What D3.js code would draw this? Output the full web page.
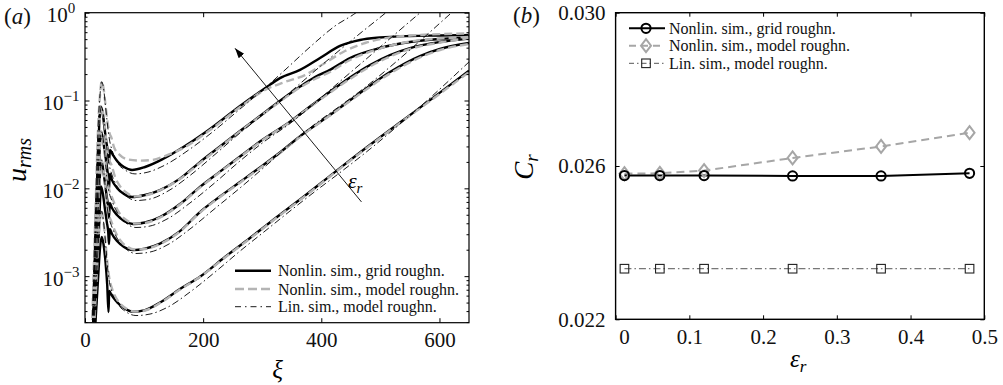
<!DOCTYPE html>
<html><head><meta charset="utf-8">
<script src="https://cdn.jsdelivr.net/npm/d3@7"></script>
<style>
html,body{margin:0;padding:0;background:#fff;}
svg{display:block;}
</style></head><body>
<svg id="fig" width="1003" height="385"></svg>
<script>
// ---------- Panel (a): disturbance amplitude u_rms along xi ----------
const xiTicks = [0, 200, 400, 600];
const uTicks = [1e-3, 1e-2, 1e-1, 1];
const uTickExp = [-3, -2, -1, 0];

// nonlinear simulations, grid roughness (five roughness amplitudes, top to bottom)
const grid1 = [[13.5,2.43e-4],[18.6,5.66e-3],[22.9,3.55e-2],[26.6,8.50e-2],[29.6,7.40e-2],[33.0,4.86e-2],[36.4,3.28e-2],[38.9,2.59e-2],[40.6,1.99e-2],[42.3,2.73e-2],[47.4,2.39e-2],[55.9,1.99e-2],[66.0,1.75e-2],[79.6,1.62e-2],[101.6,1.75e-2],[132,2.16e-2],[169.3,3.03e-2],[211.6,4.74e-2],[262.4,8.66e-2],[304.7,0.138],[330,0.180],[364,0.223],[397.8,0.305],[431.6,0.418],[465.5,0.489],[499.3,0.522],[550,0.543],[600.9,0.550],[650,0.557]];
const grid2 = [[14.4,2.43e-4],[19.5,3.35e-3],[23.7,1.84e-2],[27.1,4.40e-2],[30.1,3.74e-2],[33.5,2.59e-2],[36.9,1.80e-2],[39.3,1.31e-2],[40.6,9.56e-3],[42.0,1.46e-2],[45.7,1.24e-2],[54.2,1.01e-2],[66.0,8.61e-3],[79.6,7.96e-3],[101.6,8.39e-3],[127,9.56e-3],[160.8,1.29e-2],[194.6,1.99e-2],[228.5,2.99e-2],[262.4,4.49e-2],[296.2,6.66e-2],[324.5,9.29e-2],[364.1,0.144],[389.3,0.185],[414.7,0.223],[448.5,0.305],[499.3,0.396],[550.1,0.464],[600.9,0.502],[650,0.522]];
const grid3 = [[15.2,2.43e-4],[20.3,1.98e-3],[24.2,9.56e-3],[27.1,2.10e-2],[30.1,1.75e-2],[33.5,1.18e-2],[36.9,7.96e-3],[39.3,6.12e-3],[40.6,4.59e-3],[42.0,6.81e-3],[45.7,5.97e-3],[54.2,4.97e-3],[66.0,4.25e-3],[81.2,3.92e-3],[101.6,4.08e-3],[127,4.71e-3],[160.8,6.62e-3],[194.6,1.04e-2],[228.5,1.55e-2],[262.4,2.30e-2],[296.2,3.41e-2],[347,5.73e-2],[380.9,8.54e-2],[414.7,0.126],[448.5,0.183],[482.4,0.254],[516.3,0.330],[550.1,0.396],[600.9,0.464],[650,0.508]];
const grid4 = [[16.0,2.43e-4],[21.2,1.17e-3],[24.5,4.97e-3],[27.1,1.05e-2],[30.1,8.84e-3],[33.5,5.97e-3],[36.9,4.13e-3],[39.3,3.18e-3],[40.6,2.32e-3],[42.0,3.44e-3],[45.7,3.02e-3],[54.2,2.51e-3],[66.0,2.15e-3],[81.2,1.98e-3],[101.6,2.06e-3],[127,2.35e-3],[160.8,3.26e-3],[194.6,5.37e-3],[228.5,8.07e-3],[262.4,1.18e-2],[296.2,1.73e-2],[330,2.56e-2],[366.8,4.05e-2],[414.7,6.84e-2],[465.5,0.122],[516.3,0.211],[567,0.321],[600.9,0.386],[650,0.452]];
const grid5 = [[16.9,2.43e-4],[22.0,9.03e-4],[25.4,2.09e-3],[28.3,2.80e-3],[31.3,2.32e-3],[34.7,1.45e-3],[37.6,7.92e-4],[39.8,3.90e-4],[41.0,6.77e-4],[44.0,6.25e-4],[52.5,5.21e-4],[66.0,4.33e-4],[81.2,3.93e-4],[101.6,4.11e-4],[127,5.00e-4],[160.8,7.13e-4],[194.6,9.84e-4],[236.9,1.65e-3],[279.3,2.72e-3],[321.6,4.53e-3],[363.9,7.45e-3],[420.3,1.48e-2],[465.5,2.56e-2],[533.2,5.62e-2],[584,0.101],[650,0.219]];

// nonlinear simulations, model roughness
const model1 = [[11.8,2.43e-4],[17.8,5.66e-3],[22.0,4.61e-2],[25.4,0.116],[28.3,0.164],[31.3,0.139],[34.7,8.89e-2],[38.1,5.69e-2],[41.5,4.26e-2],[44.9,3.74e-2],[49.1,2.95e-2],[59.2,2.39e-2],[72.8,2.13e-2],[93.1,2.07e-2],[113.4,2.10e-2],[135.4,2.33e-2],[169.3,2.95e-2],[211.6,4.61e-2],[262.4,8.43e-2],[304.7,0.132],[338.6,0.163],[372.4,0.195],[406.2,0.268],[440.1,0.366],[474,0.452],[516.3,0.522],[567,0.557],[650,0.580]];
const model2 = [[12.7,2.43e-4],[18.6,4.35e-3],[22.8,2.73e-2],[25.7,6.84e-2],[27.9,8.55e-2],[31.0,7.02e-2],[34.4,4.49e-2],[37.7,2.73e-2],[41.1,2.10e-2],[44.9,1.84e-2],[50.8,1.35e-2],[59.2,1.06e-2],[71.1,8.85e-3],[82.9,8.07e-3],[101.6,8.28e-3],[127,9.51e-3],[160.8,1.28e-2],[194.6,1.94e-2],[228.5,2.95e-2],[262.4,4.44e-2],[296.2,6.57e-2],[324.5,9.12e-2],[364.1,0.141],[389.3,0.176],[414.7,0.211],[448.5,0.289],[499.3,0.391],[550.1,0.470],[600.9,0.508],[650,0.529]];
const model3 = [[13.5,2.43e-4],[19.5,3.82e-3],[23.7,2.10e-2],[27.9,4.40e-2],[31.0,3.55e-2],[34.4,2.10e-2],[37.7,1.24e-2],[41.1,9.56e-3],[44.9,8.17e-3],[50.8,6.46e-3],[59.2,5.10e-3],[71.1,4.30e-3],[84.6,3.97e-3],[101.6,4.03e-3],[127,4.65e-3],[160.8,6.54e-3],[194.6,1.02e-2],[228.5,1.53e-2],[262.4,2.27e-2],[296.2,3.37e-2],[347,5.69e-2],[380.9,8.43e-2],[414.7,0.123],[448.5,0.176],[482.4,0.244],[516.3,0.317],[550.1,0.386],[600.9,0.458],[650,0.515]];
const model4 = [[14.4,2.43e-4],[20.3,2.26e-3],[24.2,1.09e-2],[27.9,2.10e-2],[31.0,1.70e-2],[34.4,1.01e-2],[37.7,6.29e-3],[41.1,4.84e-3],[44.9,4.13e-3],[50.8,3.26e-3],[59.2,2.58e-3],[71.1,2.17e-3],[84.6,2.01e-3],[101.6,2.04e-3],[127,2.32e-3],[160.8,3.22e-3],[194.6,5.30e-3],[228.5,7.96e-3],[262.4,1.16e-2],[296.2,1.70e-2],[330,2.52e-2],[366.8,3.99e-2],[414.7,6.75e-2],[465.5,0.119],[516.3,0.203],[567,0.309],[600.9,0.376],[650,0.440]];
const model5 = [[15.2,2.43e-4],[20.3,1.17e-3],[24.5,3.82e-3],[27.9,5.51e-3],[31.0,4.36e-3],[34.4,2.58e-3],[37.7,1.45e-3],[41.1,9.51e-4],[44.9,7.51e-4],[50.8,5.93e-4],[59.2,4.88e-4],[71.1,4.22e-4],[84.6,3.95e-4],[101.6,4.06e-4],[127,4.94e-4],[160.8,7.04e-4],[194.6,9.77e-4],[236.9,1.63e-3],[279.3,2.68e-3],[321.6,4.47e-3],[363.9,7.35e-3],[420.3,1.46e-2],[465.5,2.52e-2],[533.2,5.54e-2],[584,9.87e-2],[650,0.211]];

// linear simulations, model roughness
const lin1 = [[11.8,2.43e-4],[17.8,5.66e-3],[22.0,4.61e-2],[25.4,0.116],[28.3,0.164],[31.3,0.139],[34.7,8.65e-2],[38.1,5.26e-2],[41.5,3.55e-2],[45.7,2.73e-2],[54.2,1.99e-2],[67.7,1.62e-2],[84.6,1.46e-2],[106.6,1.53e-2],[135.4,1.84e-2],[177.7,2.80e-2],[220,4.61e-2],[262.4,8.00e-2],[304.7,0.139],[338.6,0.223],[380.9,0.407],[423.2,0.706],[460.4,1.02],[474,1.22]];
const lin2 = [[12.7,2.43e-4],[18.6,4.35e-3],[22.8,2.73e-2],[25.7,6.84e-2],[27.9,8.55e-2],[31.0,7.02e-2],[34.4,4.49e-2],[37.7,2.59e-2],[41.1,1.84e-2],[45.7,1.42e-2],[54.2,1.06e-2],[67.7,8.39e-3],[86.3,7.26e-3],[110,7.55e-3],[140.5,9.31e-3],[177.7,1.40e-2],[220,2.43e-2],[262.4,4.27e-2],[304.7,7.21e-2],[338.6,0.111],[380.9,0.195],[423.2,0.339],[465.5,0.580],[514.6,1.07],[524.7,1.22]];
const lin3 = [[13.5,2.43e-4],[19.5,3.82e-3],[23.7,2.10e-2],[27.9,4.40e-2],[31.0,3.55e-2],[34.4,2.10e-2],[37.7,1.18e-2],[41.1,8.85e-3],[45.7,7.17e-3],[54.2,5.37e-3],[67.7,4.13e-3],[86.3,3.58e-3],[110,3.72e-3],[140.5,4.53e-3],[177.7,6.81e-3],[220,1.16e-2],[262.4,2.05e-2],[304.7,3.46e-2],[347,5.47e-2],[389.3,9.37e-2],[431.6,0.165],[474,0.289],[516.3,0.508],[568.8,1.02],[580.6,1.19]];
const lin4 = [[14.4,2.43e-4],[20.3,2.26e-3],[24.2,1.09e-2],[27.9,2.10e-2],[31.0,1.70e-2],[34.4,1.01e-2],[37.7,5.97e-3],[41.1,4.47e-3],[45.7,3.62e-3],[54.2,2.72e-3],[67.7,2.09e-3],[86.3,1.81e-3],[110,1.88e-3],[140.5,2.29e-3],[177.7,3.44e-3],[220,5.89e-3],[262.4,1.01e-2],[304.7,1.77e-2],[347,3.15e-2],[389.3,5.40e-2],[431.6,8.66e-2],[474,0.141],[516.3,0.241],[567,0.476],[621.2,1.01],[631.3,1.16]];
const lin5 = [[15.2,2.43e-4],[20.3,1.17e-3],[24.5,3.82e-3],[27.9,5.51e-3],[31.0,4.36e-3],[34.4,2.58e-3],[37.7,1.37e-3],[41.1,8.79e-4],[45.7,6.59e-4],[54.2,4.94e-4],[67.7,4.00e-4],[86.3,3.56e-4],[110,3.70e-4],[140.5,4.45e-4],[177.7,6.59e-4],[220,1.11e-3],[262.4,1.93e-3],[304.7,3.26e-3],[347,5.51e-3],[389.3,9.20e-3],[431.6,1.51e-2],[482.4,2.80e-2],[533.2,5.40e-2],[584,0.107],[650,0.275]];

// arrow marking increasing roughness amplitude (xi, u)
const arrowTail = [468, 7.0e-3];
const arrowHead = [254, 0.393];
const arrowLabelAt = [445, 1.0e-2];

// ---------- Panel (b): phase speed against roughness amplitude ----------
const epsR = [0.012, 0.06, 0.12, 0.24, 0.36, 0.48];
const crGrid = [0.02575, 0.02575, 0.02575, 0.02574, 0.02574, 0.02581];
const crModel = [0.02580, 0.02581, 0.02588, 0.02621, 0.02651, 0.02687];
const crLin = [0.02332, 0.02332, 0.02332, 0.02332, 0.02332, 0.02332];
const epsTicks = [0, 0.1, 0.2, 0.3, 0.4, 0.5];
const crTicks = [0.022, 0.026, 0.030];

const legendLabels = ["Nonlin. sim., grid roughn.", "Nonlin. sim., model roughn.", "Lin. sim., model roughn."];

// ---------- drawing ----------
const FONT = "'Liberation Serif'";
const svg = d3.select("#fig");
const GRAY = "#b4b4b4";
const DASH = "8,4";
const DASHDOT = "7,3,1.5,3";

function styleAxis(g, size) {
  g.select(".domain").remove();
  g.selectAll(".tick line").attr("stroke", "#000").attr("stroke-width", 1);
  g.attr("font-family", null).attr("font-size", size);
  g.selectAll("text").attr("fill", "#111");
}

// ----- panel (a) -----
const A = {left: 85, right: 469, top: 12.7, bottom: 322.7};
const xA = d3.scaleLinear().domain([0, 650]).range([A.left, A.right]);
const yA = d3.scaleLog().domain([2.95e-4, 1]).range([A.bottom, A.top]);

const defs = svg.append("defs");
defs.append("clipPath").attr("id", "clipA").append("rect")
  .attr("x", A.left).attr("y", A.top).attr("width", A.right - A.left).attr("height", A.bottom - A.top);
defs.append("marker").attr("id", "head").attr("viewBox", "0 0 10 10")
  .attr("refX", 10).attr("refY", 5).attr("markerWidth", 10).attr("markerHeight", 10)
  .attr("markerUnits", "userSpaceOnUse").attr("orient", "auto")
  .append("path").attr("d", "M0,1.5 L10,5 L0,8.5 Z").attr("fill", "#000");

const lineA = d3.line().x(d => xA(d[0])).y(d => yA(d[1])).curve(d3.curveMonotoneX);
const curves = svg.append("g").attr("clip-path", "url(#clipA)").attr("fill", "none");
[grid1, grid2, grid3, grid4, grid5].forEach(c =>
  curves.append("path").attr("d", lineA(c)).attr("stroke", "#000").attr("stroke-width", 2.4));
[model1, model2, model3, model4, model5].forEach(c =>
  curves.append("path").attr("d", lineA(c)).attr("stroke", GRAY).attr("stroke-width", 2.4)
    .attr("stroke-dasharray", DASH));
[lin1, lin2, lin3, lin4, lin5].forEach(c =>
  curves.append("path").attr("d", lineA(c)).attr("stroke", "#000").attr("stroke-width", 0.9)
    .attr("stroke-dasharray", DASHDOT));

// arrow and its label
svg.append("line")
  .attr("x1", xA(arrowTail[0])).attr("y1", yA(arrowTail[1]))
  .attr("x2", xA(arrowHead[0])).attr("y2", yA(arrowHead[1]))
  .attr("stroke", "#000").attr("stroke-width", 0.9).attr("marker-end", "url(#head)");
const eLab = svg.append("text").attr("x", xA(arrowLabelAt[0])).attr("y", yA(arrowLabelAt[1]))
  .attr("font-size", 22).attr("font-style", "italic");
eLab.append("tspan").text("ε");
eLab.append("tspan").attr("dy", 5).attr("font-size", 15).text("r");

// axes (a)
const gxa = svg.append("g").attr("transform", `translate(0,${A.bottom})`)
  .call(d3.axisBottom(xA).tickValues(xiTicks).tickSize(-4.5).tickPadding(9).tickFormat(d3.format("d")));
styleAxis(gxa, 21);
const gxa2 = svg.append("g").attr("transform", `translate(0,${A.top})`)
  .call(d3.axisTop(xA).tickValues(xiTicks).tickSize(-4.5).tickFormat(""));
styleAxis(gxa2, 21);
const minorU = yA.ticks().filter(v => Math.abs(Math.log10(v) - Math.round(Math.log10(v))) > 1e-6);
[[d3.axisLeft, A.left], [d3.axisRight, A.right]].forEach(([ax, pos]) => {
  const gmaj = svg.append("g").attr("transform", `translate(${pos},0)`)
    .call(ax(yA).tickValues(uTicks).tickSize(-4.5).tickFormat(""));
  styleAxis(gmaj, 21);
  const gmin = svg.append("g").attr("transform", `translate(${pos},0)`)
    .call(ax(yA).tickValues(minorU).tickSize(-2.5).tickFormat(""));
  styleAxis(gmin, 21);
});
uTicks.forEach((v, i) => {
  const t = svg.append("text").attr("x", 61).attr("y", yA(v) + 9.5)
    .attr("text-anchor", "middle").attr("font-size", 21).attr("fill", "#111");
  t.append("tspan").text("10");
  const e = uTickExp[i];
  t.append("tspan").attr("dy", -9).attr("font-size", 15).text(e < 0 ? "\u2212" + Math.abs(e) : String(e));
});
svg.append("rect").attr("x", A.left).attr("y", A.top).attr("width", A.right - A.left)
  .attr("height", A.bottom - A.top).attr("fill", "none").attr("stroke", "#000").attr("stroke-width", 1.2);

// legend (a)
const legA = svg.append("g");
const legAStyles = [
  {stroke: "#000", w: 2.4, dash: null},
  {stroke: GRAY, w: 2.4, dash: "9,4"},
  {stroke: "#000", w: 0.9, dash: "6,4,1.5,4"}
];
[270.7, 289, 306.7].forEach((yy, i) => {
  const s = legAStyles[i];
  legA.append("line").attr("x1", 235).attr("x2", 271).attr("y1", yy).attr("y2", yy)
    .attr("stroke", s.stroke).attr("stroke-width", s.w).attr("stroke-dasharray", s.dash);
  legA.append("text").attr("x", 278).attr("y", yy + 5.5).attr("font-size", 16).attr("fill", "#111")
    .text(legendLabels[i]);
});

// labels (a)
const ta = svg.append("text").attr("x", 4).attr("y", 24).attr("font-size", 23).attr("fill", "#111");
ta.append("tspan").text("(");
ta.append("tspan").attr("font-style", "italic").text("a");
ta.append("tspan").text(")");
svg.append("text").attr("x", 277.5).attr("y", 378).attr("text-anchor", "middle")
  .attr("font-size", 25).attr("font-style", "italic").text("ξ");
const yl = svg.append("text").attr("transform", "translate(26,160) rotate(-90)")
  .attr("text-anchor", "middle").attr("font-style", "italic").attr("font-size", 28);
yl.append("tspan").text("u");
yl.append("tspan").attr("dy", 5).attr("font-size", 20).text("rms");

// ----- panel (b) -----
const B = {left: 615.6, right: 984.3, top: 12.7, bottom: 319.3};
const xB = d3.scaleLinear().domain([0, 0.5]).range([B.left, B.right]);
const yB = d3.scaleLinear().domain([0.022, 0.030]).range([B.bottom, B.top]);

const gxb = svg.append("g").attr("transform", `translate(0,${B.bottom})`)
  .call(d3.axisBottom(xB).tickValues(epsTicks).tickSize(-4).tickPadding(10)
    .tickFormat(d => d === 0 ? "0" : d3.format(".1f")(d)));
styleAxis(gxb, 21);
gxb.selectAll(".tick text").filter(d => d === 0).attr("x", 8.5);
const gxb2 = svg.append("g").attr("transform", `translate(0,${B.top})`)
  .call(d3.axisTop(xB).tickValues(epsTicks).tickSize(-4).tickFormat(""));
styleAxis(gxb2, 21);
const gyb = svg.append("g").attr("transform", `translate(${B.left},0)`)
  .call(d3.axisLeft(yB).tickValues(crTicks).tickSize(-4).tickPadding(10).tickFormat(d3.format(".3f")));
styleAxis(gyb, 21);
const gyb2 = svg.append("g").attr("transform", `translate(${B.right},0)`)
  .call(d3.axisRight(yB).tickValues(crTicks).tickSize(-4).tickFormat(""));
styleAxis(gyb2, 21);

const ptsGrid = epsR.map((e, i) => [e, crGrid[i]]);
const ptsModel = epsR.map((e, i) => [e, crModel[i]]);
const ptsLin = epsR.map((e, i) => [e, crLin[i]]);
const lineB = d3.line().x(d => xB(d[0])).y(d => yB(d[1]));

const LINGRAY = "#555";
svg.append("path").attr("d", lineB(ptsLin)).attr("fill", "none").attr("stroke", LINGRAY)
  .attr("stroke-width", 1).attr("stroke-dasharray", DASHDOT);
svg.append("path").attr("d", lineB(ptsModel)).attr("fill", "none").attr("stroke", "#a6a6a6")
  .attr("stroke-width", 2).attr("stroke-dasharray", "8,5");
svg.append("path").attr("d", lineB(ptsGrid)).attr("fill", "none").attr("stroke", "#000")
  .attr("stroke-width", 2);

const sym = {
  circle: (g, x, y) => g.append("circle").attr("cx", x).attr("cy", y).attr("r", 4.6)
    .attr("fill", "none").attr("stroke", "#000").attr("stroke-width", 2),
  diamond: (g, x, y) => g.append("path").attr("d", `M${x},${y - 6.5}L${x + 5},${y}L${x},${y + 6.5}L${x - 5},${y}Z`)
    .attr("fill", "none").attr("stroke", "#a6a6a6").attr("stroke-width", 2),
  square: (g, x, y) => g.append("rect").attr("x", x - 4.3).attr("y", y - 4.3).attr("width", 8.6).attr("height", 8.6)
    .attr("fill", "none").attr("stroke", "#222").attr("stroke-width", 1.1)
};
const gm = svg.append("g");
ptsLin.forEach(d => sym.square(gm, xB(d[0]), yB(d[1])));
ptsModel.forEach(d => sym.diamond(gm, xB(d[0]), yB(d[1])));
ptsGrid.forEach(d => sym.circle(gm, xB(d[0]), yB(d[1])));

svg.append("rect").attr("x", B.left).attr("y", B.top).attr("width", B.right - B.left)
  .attr("height", B.bottom - B.top).attr("fill", "none").attr("stroke", "#000").attr("stroke-width", 1.4);

// legend (b)
const legB = svg.append("g");
const legBStyles = [
  {stroke: "#000", w: 2, dash: null, m: "circle"},
  {stroke: "#a6a6a6", w: 2, dash: "7,5", m: "diamond"},
  {stroke: LINGRAY, w: 1, dash: "5,3,1.5,3", m: "square"}
];
[28.3, 45.7, 63.3].forEach((yy, i) => {
  const s = legBStyles[i];
  legB.append("line").attr("x1", 629).attr("x2", 665).attr("y1", yy).attr("y2", yy)
    .attr("stroke", s.stroke).attr("stroke-width", s.w).attr("stroke-dasharray", s.dash);
  sym[s.m](legB, 646, yy);
  legB.append("text").attr("x", 669).attr("y", yy + 5.2).attr("font-size", 16).attr("fill", "#111")
    .text(legendLabels[i]);
});

// labels (b)
const tb = svg.append("text").attr("x", 513).attr("y", 22.5).attr("font-size", 23).attr("fill", "#111");
tb.append("tspan").text("(");
tb.append("tspan").attr("font-style", "italic").text("b");
tb.append("tspan").text(")");
const xlb = svg.append("text").attr("x", 790).attr("y", 367).attr("font-size", 25).attr("font-style", "italic");
xlb.append("tspan").text("ε");
xlb.append("tspan").attr("dy", 5).attr("font-size", 17).text("r");
const ylb = svg.append("text").attr("transform", "translate(533,167) rotate(-90)")
  .attr("text-anchor", "middle").attr("font-style", "italic").attr("font-size", 27);
ylb.append("tspan").text("C");
ylb.append("tspan").attr("dy", 5).attr("font-size", 19).text("r");

// every label in the serif face
svg.selectAll("text").style("font-family", FONT);
</script>
</body></html>
